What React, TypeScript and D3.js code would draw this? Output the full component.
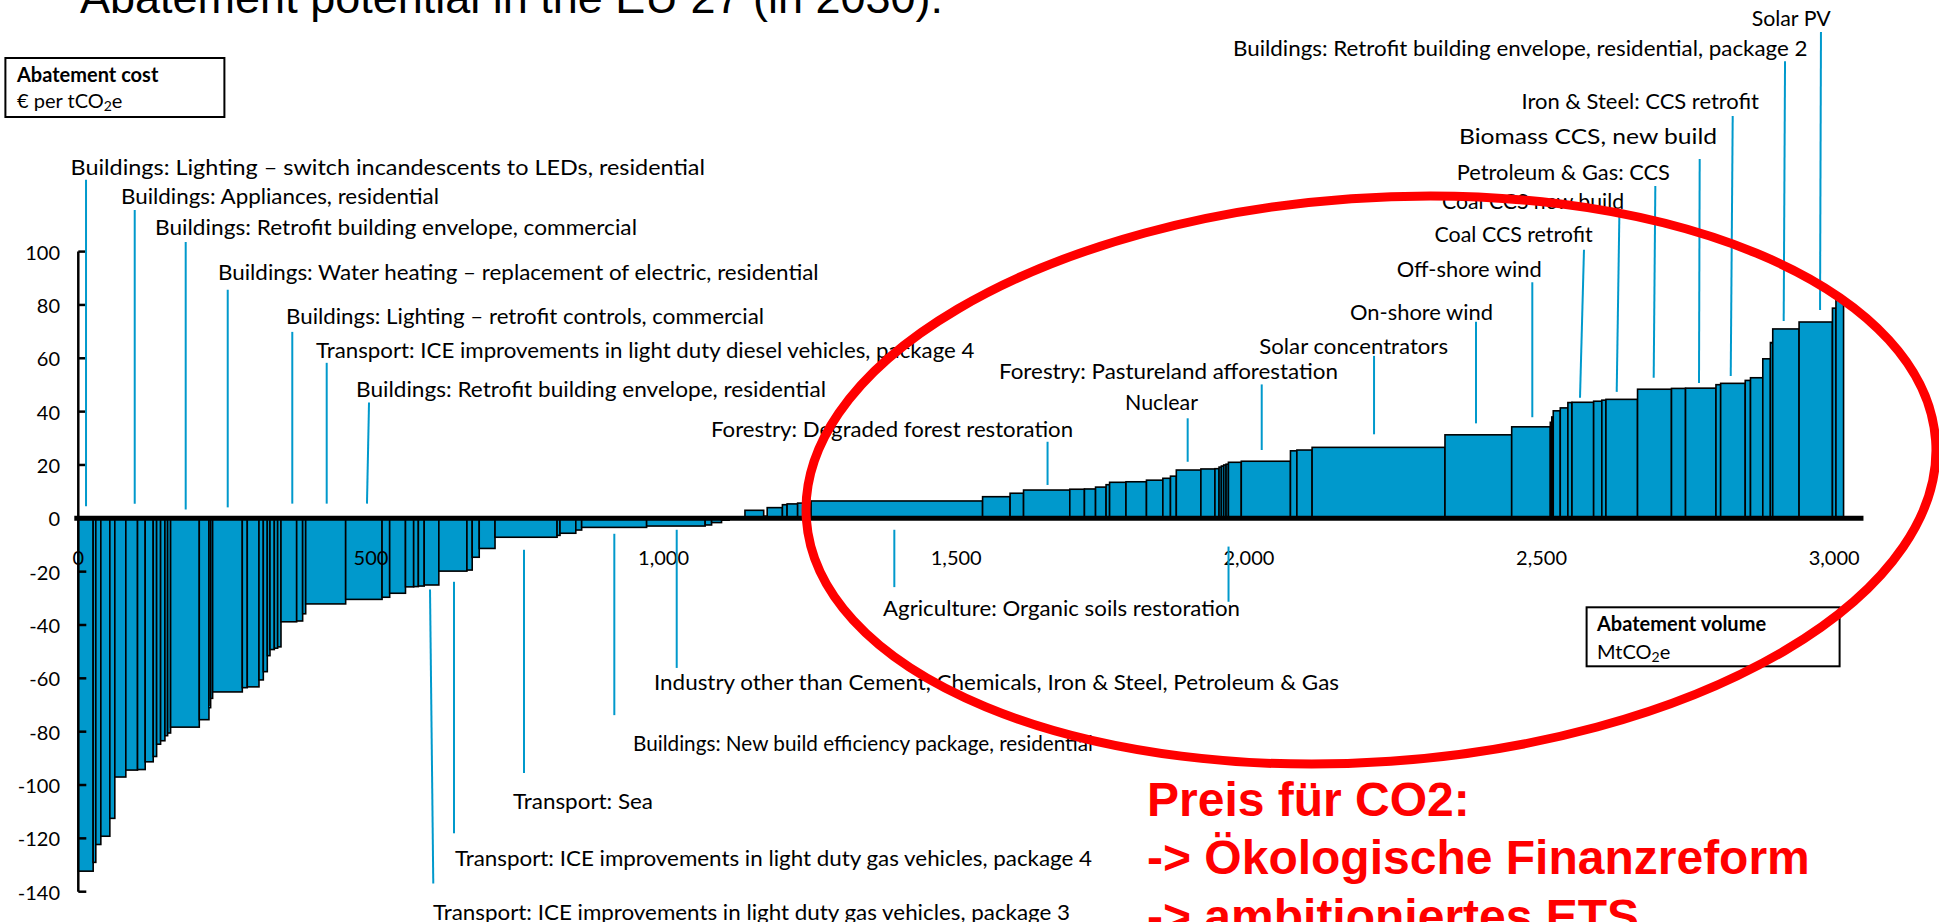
import React from 'react';
import * as d3 from 'd3';

// Abatement volume of each lever (MtCO2e) and its cost (€ per tCO2e), in curve order
const volumes = [
  25.4, 4.5, 8.6, 15.4, 8.5, 18.8, 20, 13.1, 13.7, 5.8, 6.8, 7.4, 4.6, 5.1, 49, 16.5, 2.9, 3.4, 50.7, 8.5,
  20, 7.4, 6.8, 4.6, 7.4, 5.7, 5.7, 26.8, 10.2, 5.2, 68.3, 62.2, 13, 27, 14, 8, 10, 25, 48, 9,
  12, 27, 106, 5, 27, 10, 111, 100, 11, 17, 13, 27,
  32, 6, 26, 8, 18, 23, 293, 47, 23, 79, 25, 19, 18, 6, 28, 35, 28, 13, 10, 42, 24, 7, 4, 4, 4, 4,
  22, 84, 11, 26, 227, 114, 66, 2.5, 2.5, 12, 13, 7, 37, 14, 7, 54, 58, 24, 52, 8, 42, 9, 21, 13, 4,
  45, 57, 6, 13,
];
const costs = [
  -132.3, -129, -122.3, -119.2, -112.5, -97, -94.4, -94.2, -91.3, -89.3, -84.7, -83.4, -81.5, -80.5, -78.3, -75.5, -71, -67.5, -65.1, -63.5,
  -63.2, -60.6, -57.5, -51.5, -49.2, -48.7, -48.2, -38.8, -38.5, -35.8, -32.1, -30.4, -29.6, -28.1, -25.7, -25.6, -25.4, -25, -19.8, -19.4,
  -14.6, -11.3, -7.1, -6.4, -5.6, -4.4, -3.4, -2.9, -2.5, -1.6, -0.7, -0.2,
  3.0, 0.8, 4.0, 5.1, 5.4, 5.7, 6.5, 8.1, 9.4, 10.6, 10.9, 11.0, 11.7, 12.6, 13.5, 13.7, 14.3, 15.0, 15.8, 18.1, 18.5, 18.6, 19.2, 19.6, 20.0, 20.3,
  21.0, 21.4, 25.3, 25.6, 26.6, 31.3, 34.3, 36, 38, 40.3, 41.4, 43.4, 43.5, 43.9, 44.3, 44.6, 48.4, 48.7, 48.8, 50.1, 50.6, 51.7, 52.7, 59.8, 65.9,
  71.0, 73.6, 78.8, 82.6,
];

const yTicks = [100, 80, 60, 40, 20, 0, -20, -40, -60, -80, -100, -120, -140];
const xTicks = [0, 500, 1000, 1500, 2000, 2500, 3000];
const xTickLabels = ['0', '500', '1,000', '1,500', '2,000', '2,500', '3,000'];

const labelTexts = [
  'Buildings: Lighting – switch incandescents to LEDs, residential',
  'Buildings: Appliances, residential',
  'Buildings: Retrofit building envelope, commercial',
  'Buildings: Water heating – replacement of electric, residential',
  'Buildings: Lighting – retrofit controls, commercial',
  'Transport: ICE improvements in light duty diesel vehicles, package 4',
  'Buildings: Retrofit building envelope, residential',
  'Forestry: Degraded forest restoration',
  'Nuclear',
  'Forestry: Pastureland afforestation',
  'Solar concentrators',
  'On-shore wind',
  'Off-shore wind',
  'Coal CCS retrofit',
  'Coal CCS new build',
  'Petroleum & Gas: CCS',
  'Biomass CCS, new build',
  'Iron & Steel: CCS retrofit',
  'Buildings: Retrofit building envelope, residential, package 2',
  'Solar PV',
  'Agriculture: Organic soils restoration',
  'Industry other than Cement, Chemicals, Iron & Steel, Petroleum & Gas',
  'Buildings: New build efficiency package, residential',
  'Transport: Sea',
  'Transport: ICE improvements in light duty gas vehicles, package 4',
  'Transport: ICE improvements in light duty gas vehicles, package 3',
];

// layout of the label text: [left px, centre y px, right px]
const labelLayout: [number, number, number][] = [
  [70.5, 166, 705], [121, 195, 439], [155, 226, 637], [218, 271, 818.6], [286, 315, 764],
  [316, 349, 974.5], [356, 388, 826], [711, 428, 1073], [1125, 401, 1198], [999, 370, 1338],
  [1259.3, 345, 1448], [1350, 311, 1493], [1396.7, 268.3, 1541.7], [1434.5, 233, 1592.7], [1442, 200.5, 1624],
  [1456.7, 171, 1670], [1459, 135.5, 1717], [1521.5, 100.5, 1759], [1233, 47.6, 1807.5], [1751.7, 17.2, 1830.7],
  [883, 607, 1240], [654, 681, 1339], [633, 742, 1093], [513, 800, 653], [455, 857, 1092], [433, 911, 1070],
];

// leader lines in data units: [volume top, cost top, volume bottom, cost bottom]
const leaders: [number, number, number, number][] = [
  [13.2, 126.9, 13.2, 4.5], [96.4, 115.6, 96.4, 5.5], [183.5, 103.6, 183.5, 3.3], [255.3, 85.7, 255.3, 4.1],
  [365.6, 69.9, 365.6, 5.5], [424.4, 58.3, 424.4, 5.5], [496.7, 43.4, 493.2, 5.5], [1656, 28.7, 1656, 12.5],
  [1895.4, 37.5, 1895.4, 21.2], [2021.9, 50.2, 2021.9, 25.6], [2213.8, 60.9, 2213.8, 31.5], [2388, 73.7, 2388, 35.6],
  [2484.2, 88.5, 2484.2, 37.9], [2572.5, 100.7, 2565.7, 45.2], [2632.9, 113, 2628.4, 47.4], [2694.4, 124.6, 2691.6, 52.7],
  [2770.2, 134.7, 2769, 50.7], [2826.6, 150.8, 2823.2, 53.4], [2916, 171.4, 2913.7, 74], [2977.4, 182.3, 2975.8, 78.1],
  [1394.2, -4.3, 1394.2, -25.8], [1965.2, -10.6, 1965.2, -31.3], [1022.4, -4.3, 1022.4, -56.1], [915.8, -5.8, 915.8, -73.8],
  [761.5, -11.8, 761.5, -95.5], [641.9, -23.8, 641.9, -118.1], [600.9, -26.7, 606.5, -136.9],
];

const redLines = ['Preis für CO2:', '-> Ökologische Finanzreform', '-> ambitioniertes ETS'];

const BLUE = '#0099CC';
const LABEL_FONT = "Lato, 'Open Sans', sans-serif";

export default function App() {
  const W = 1939, H = 922;
  const x = d3.scaleLinear().domain([0, 3000]).range([78.3, 1834.2]);
  const y = d3.scaleLinear().domain([-140, 100]).range([891.7, 251.6]);
  const ends = d3.cumsum(volumes);
  const bars = volumes.map((v, i) => ({ x0: ends[i] - v, x1: ends[i], c: costs[i] }));
  const y0 = y(0);

  return (
    <svg width={W} height={H} style={{ position: 'absolute', left: 0, top: 0, display: 'block', background: '#fff' }}>
      <rect x={0} y={0} width={W} height={H} fill="#fff" />
      {/* title */}
      <text x={80} y={13} fontFamily="'Liberation Sans', Arial, sans-serif" fontSize={45} fill="#000">
        Abatement potential in the EU 27 (in 2030):
      </text>

      {/* bars */}
      <g>
        {bars.map((b, i) => {
          const yy = y(b.c);
          return (
            <rect key={i} x={x(b.x0)} width={x(b.x1) - x(b.x0)} y={Math.min(yy, y0)} height={Math.abs(yy - y0)}
              fill={BLUE} stroke="#000" strokeWidth={1.6} />
          );
        })}
      </g>

      {/* y axis */}
      <line x1={x(0)} x2={x(0)} y1={y(100)} y2={y(-140)} stroke="#000" strokeWidth={2.5} />
      {yTicks.map((t) => (
        <g key={t}>
          <line x1={x(0)} x2={x(0) + 8} y1={y(t)} y2={y(t)} stroke="#000" strokeWidth={2.5} />
          <text x={60} y={y(t)} textAnchor="end" dominantBaseline="central" fontFamily={LABEL_FONT} fontSize={20} fill="#000">
            {t}
          </text>
        </g>
      ))}

      {/* x axis */}
      <line x1={x(0) - 4} x2={x(3050)} y1={y0} y2={y0} stroke="#000" strokeWidth={5} />
      {xTicks.map((t, i) => (
        <text key={t} x={x(t)} y={y0 + 39} textAnchor="middle" dominantBaseline="central" fontFamily={LABEL_FONT} fontSize={20} fill="#000">
          {xTickLabels[i]}
        </text>
      ))}

      {/* leaders */}
      {leaders.map((l, i) => (
        <line key={i} x1={x(l[0])} y1={y(l[1])} x2={x(l[2])} y2={y(l[3])} stroke={BLUE} strokeWidth={2} />
      ))}

      {/* labels */}
      {labelTexts.map((t, i) => {
        const [lx, ly, rx] = labelLayout[i];
        return (
          <text key={i} x={lx} y={ly} dominantBaseline="central" fontFamily={LABEL_FONT} fontSize={21} fill="#000"
            textLength={rx - lx} lengthAdjust="spacingAndGlyphs">
            {t}
          </text>
        );
      })}

      {/* axis title boxes */}
      <rect x={5.4} y={58} width={219} height={59} fill="#fff" stroke="#000" strokeWidth={2} />
      <text x={17} y={74} dominantBaseline="central" fontFamily={LABEL_FONT} fontSize={20} fontWeight="bold" fill="#000">
        Abatement cost
      </text>
      <text x={17} y={100} dominantBaseline="central" fontFamily={LABEL_FONT} fontSize={20} fill="#000">
        <tspan>€ per tCO</tspan>
        <tspan dy={5} fontSize={14}>2</tspan>
        <tspan dy={-5}>e</tspan>
      </text>

      <rect x={1586.6} y={607.3} width={253} height={59} fill="#fff" stroke="#000" strokeWidth={2} />
      <text x={1597} y={623} dominantBaseline="central" fontFamily={LABEL_FONT} fontSize={20} fontWeight="bold" fill="#000">
        Abatement volume
      </text>
      <text x={1597} y={651} dominantBaseline="central" fontFamily={LABEL_FONT} fontSize={20} fill="#000">
        <tspan>MtCO</tspan>
        <tspan dy={5} fontSize={14}>2</tspan>
        <tspan dy={-5}>e</tspan>
      </text>

      {/* red ellipse */}
      <ellipse cx={1371} cy={480} rx={566} ry={282} transform="rotate(-4 1371 480)" fill="none" stroke="#FF0000" strokeWidth={9} />

      {/* red text */}
      {redLines.map((t, i) => (
        <text key={i} x={1147} y={816 + i * 58.3} fontFamily="'Liberation Sans', Arial, sans-serif" fontWeight="bold" fontSize={48} fill="#FF0000">
          {t}
        </text>
      ))}
    </svg>
  );
}
